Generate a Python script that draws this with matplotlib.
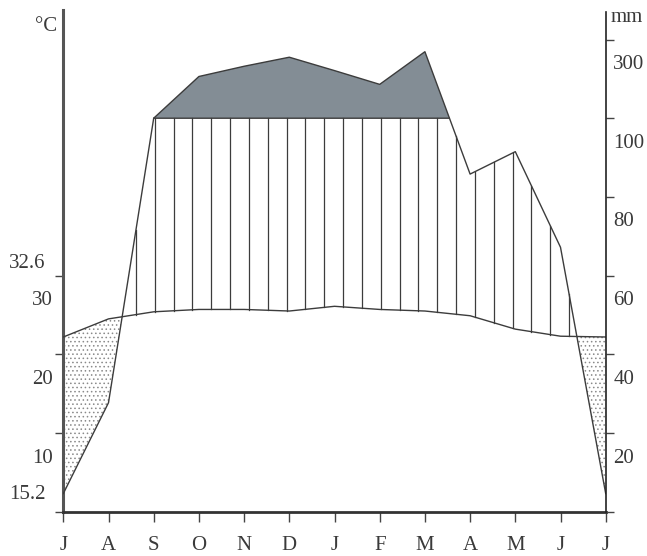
import numpy as np
import matplotlib.pyplot as plt
from matplotlib import transforms

# Walter-Lieth style climate diagram, year starting in July
months = ['J', 'A', 'S', 'O', 'N', 'D', 'J', 'F', 'M', 'A', 'M', 'J', 'J']
temp_c = [22.2, 24.5, 25.4, 25.7, 25.7, 25.5, 26.1, 25.7, 25.5, 24.9, 23.2, 22.3, 22.2]
prec_mm = [4.6, 27.7, 100, 206, 232, 255, 221, 186, 269, 85.8, 91.5, 67.2, 4.6]

left_ticks = [0, 20, 40, 60]            # in mm units (10 C = 20 mm)
left_labels = ['', '10', '20', '30']
right_ticks = [0, 20, 40, 60, 80, 100, 120]
right_labels = ['', '20', '40', '60', '80', '100', '300']
t_max, t_min = '32.6', '15.2'

LINE = '#3c3c3c'
TXT = '#3a3a3a'
DARK = '#838d95'
plt.rcParams['font.family'] = ['Liberation Serif', 'DejaVu Serif']
plt.rcParams['hatch.linewidth'] = 0.6
plt.rcParams['hatch.color'] = '#8a8a8a'


def prec_scale(p):
    # above 100 mm the scale is reduced 10 times
    p = np.asarray(p, dtype=float)
    return np.where(p > 100, 100 + (p - 100) / 10.0, p)


x = np.arange(len(months))
tu = 2 * np.array(temp_c)
pu = prec_scale(prec_mm)

xf = np.linspace(0, 12, 2401)
tf = np.interp(xf, x, tu)
pf = np.interp(xf, x, pu)

fig = plt.figure(figsize=(6.47, 5.56), dpi=100)
ax = fig.add_axes([63.3 / 647, 44.3 / 556, (605.7 - 63.3) / 647, (511.7 - 10) / 556])
ax.set_xlim(0, 12)
ax.set_ylim(0, 127.5)

# humid part above 100 mm
ax.fill_between(xf, 100, pf, where=pf >= 100, interpolate=True,
                facecolor=DARK, edgecolor='none', zorder=1)
ax.plot(xf, np.where(pf >= 100, 100, np.nan), color=LINE, lw=1.0, zorder=3)

# humid part below 100 mm: vertical hatching
for xs in np.arange(-0.06, 12, 5 / 12):
    if xs < 0:
        continue
    t = np.interp(xs, x, tu)
    p = np.interp(xs, x, pu)
    if p > t:
        ax.plot([xs, xs], [t, min(p, 100)], color=LINE, lw=0.9, zorder=2)

# dry period: dots
ax.fill_between(xf, pf, tf, where=tf > pf, interpolate=True,
                facecolor='none', edgecolor='#8a8a8a', linewidth=0,
                hatch='....', zorder=1)

ax.plot(x, tu, color=LINE, lw=1.0, zorder=4)
ax.plot(x, pu, color=LINE, lw=1.0, zorder=4)

# spines
for s in ['top', 'right']:
    ax.spines[s].set_visible(False)
ax.spines['left'].set_linewidth(2.2)
ax.spines['left'].set_color('#555555')
ax.spines['bottom'].set_linewidth(2.0)
ax.spines['bottom'].set_color('#333333')

ax.set_xticks(x)
ax.set_xticklabels([])
ax.tick_params(axis='x', direction='out', length=7, width=1, color='#444444')
ax.set_yticks(left_ticks)
ax.set_yticklabels([])
ax.tick_params(axis='y', direction='out', length=6, width=1, color='#444444')

ax2 = ax.twinx()
ax2.set_position(ax.get_position())
ax2.set_ylim(0, 127.5)
for s in ['top', 'left', 'bottom']:
    ax2.spines[s].set_visible(False)
ax2.spines['right'].set_linewidth(1.2)
ax2.spines['right'].set_color('#222222')
ax2.spines['right'].set_bounds(0, 127.1)
ax2.set_yticks(right_ticks)
ax2.set_yticklabels([])
ax2.tick_params(axis='y', direction='out', length=6, width=1, color='#444444')

fs = 15
# month labels
xlab = transforms.offset_copy(ax.get_xaxis_transform(), fig=fig, y=-37.8, units='dots')
for i, m in enumerate(months):
    ax.text(i, 0, m, transform=xlab, ha='center', va='baseline', fontsize=fs, color=TXT)

# left labels (placed just below their ticks)
ylab_l = transforms.offset_copy(ax.transData, fig=fig, x=-10, y=-29.5, units='dots')
for v, lab in zip(left_ticks, left_labels):
    if lab:
        ax.text(0, v, lab, transform=ylab_l, ha='right', va='baseline', fontsize=fs, color=TXT)
tmax_tr = transforms.offset_copy(ax.transData, fig=fig, x=-18, y=-13, units='dots')
ax.text(0, 2 * float(t_max), t_max, transform=tmax_tr, ha='right', va='baseline',
        fontsize=fs, color=TXT)
tmin_tr = transforms.offset_copy(ax.transData, fig=fig, x=-17.5, y=12.5, units='dots')
ax.text(0, 0, t_min, transform=tmin_tr, ha='right', va='baseline', fontsize=fs, color=TXT)
ax.text(0, 123.7, '°C', transform=transforms.offset_copy(ax.transData, fig=fig, x=-6.5, y=-6.5, units='dots'),
        ha='right', va='baseline', fontsize=fs, color=TXT)

# right labels
ylab_r = transforms.offset_copy(ax.transData, fig=fig, x=7.5, y=-29.5, units='dots')
for v, lab in zip(right_ticks, right_labels):
    if lab:
        ax.text(12, v, lab, transform=ylab_r, ha='left', va='baseline', fontsize=fs, color=TXT)
ax.text(12, 125.5, 'mm', transform=transforms.offset_copy(ax.transData, fig=fig, x=5, y=-4, units='dots'),
        ha='left', va='baseline', fontsize=fs, color=TXT)

fig.savefig('out.png', dpi=100)
